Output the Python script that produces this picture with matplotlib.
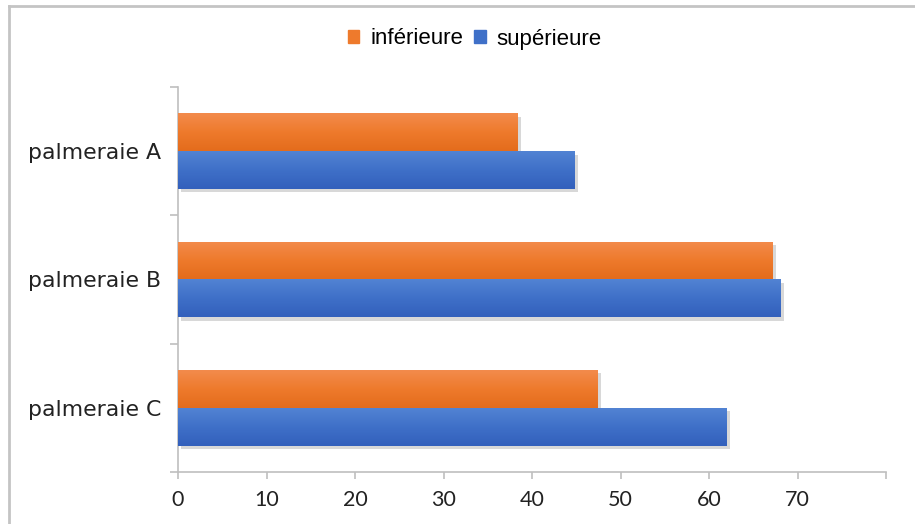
import numpy as np
import matplotlib
matplotlib.use("Agg")
import matplotlib.pyplot as plt
from matplotlib.lines import Line2D
from matplotlib.patches import Rectangle
import matplotlib.patheffects as pe
from matplotlib.colors import LinearSegmentedColormap

categories = ["palmeraie A", "palmeraie B", "palmeraie C"]
inferieure = [38.4, 67.2, 47.4]
superieure = [44.8, 68.1, 62.0]
series_names = ["inférieure", "supérieure"]
xticks = [0, 10, 20, 30, 40, 50, 60, 70]

orange_grad = ["#F38B4C", "#EE7A2C", "#E46C1C"]
blue_grad = ["#5283D3", "#3F70C8", "#3360BC"]

fig = plt.figure(figsize=(9.15, 5.24), dpi=100)
ax = fig.add_axes([178 / 915, 1 - 472 / 524, (886 - 178) / 915, (472 - 87) / 524])

n = len(categories)
pos = np.arange(n)
h = 0.295

def gradient_bars(y, widths, colors):
    bars = ax.barh(y, widths, height=h, color=colors[1], linewidth=0, zorder=2)
    cmap = LinearSegmentedColormap.from_list("g", colors)
    grad = np.linspace(0, 1, 64).reshape(-1, 1)
    for b in bars:
        b.set_path_effects([pe.SimplePatchShadow(offset=(2.5, -2.5), shadow_rgbFace="#666666", alpha=0.25),
                            pe.Normal()])
        x0, y0 = b.get_x(), b.get_y()
        w, hh = b.get_width(), b.get_height()
        im = ax.imshow(grad, cmap=cmap, aspect="auto", extent=(x0, x0 + w, y0 + hh, y0),
                       zorder=3, interpolation="bicubic")
        im.set_clip_path(b)
    return bars

gradient_bars(pos - h / 2, inferieure, orange_grad)
gradient_bars(pos + h / 2, superieure, blue_grad)

ax.set_xlim(0, 80)
ax.set_ylim(n - 0.5, -0.5)

for s in ["top", "right"]:
    ax.spines[s].set_visible(False)
for s in ["left", "bottom"]:
    ax.spines[s].set_color("#BFBFBF")
    ax.spines[s].set_linewidth(1.2)

ax.set_xticks(xticks + [80])
ax.set_xticklabels([str(t) for t in xticks] + [""])
ax.tick_params(axis="x", length=5, width=1.2, color="#BFBFBF", pad=8,
               labelsize=15.5, labelcolor="#222222")
ax.set_yticks(np.arange(-0.5, n, 1.0))
ax.set_yticklabels([])
ax.tick_params(axis="y", which="major", length=6, width=1.2, color="#BFBFBF")
ax.set_yticks(pos, minor=True)
ax.set_yticklabels(categories, minor=True)
ax.tick_params(axis="y", which="minor", length=0, pad=12, labelsize=15.8, labelcolor="#222222")
for lab in ax.get_xticklabels():
    lab.set_fontfamily("Lato")
for lab in ax.get_yticklabels(minor=True):
    lab.set_fontfamily("DejaVu Sans")

handles = [Rectangle((0, 0), 1, 1, color=orange_grad[1]), Rectangle((0, 0), 1, 1, color=blue_grad[1])]
fig.legend(handles, series_names, loc="center", bbox_to_anchor=(475 / 915, 1 - 39 / 524),
           ncol=2, frameon=False, handlelength=0.5, handleheight=0.5, handletextpad=0.5,
           columnspacing=0.5, prop={"family": "Liberation Sans", "size": 16})

# chart frame
fig.add_artist(Line2D([9 / 915, 9 / 915], [0, 1 - 6 / 524], transform=fig.transFigure,
                      color="#C4C4C4", linewidth=2))
fig.add_artist(Line2D([9 / 915, 1], [1 - 6 / 524, 1 - 6 / 524], transform=fig.transFigure,
                      color="#C4C4C4", linewidth=2))

fig.savefig("out.png", dpi=100)
